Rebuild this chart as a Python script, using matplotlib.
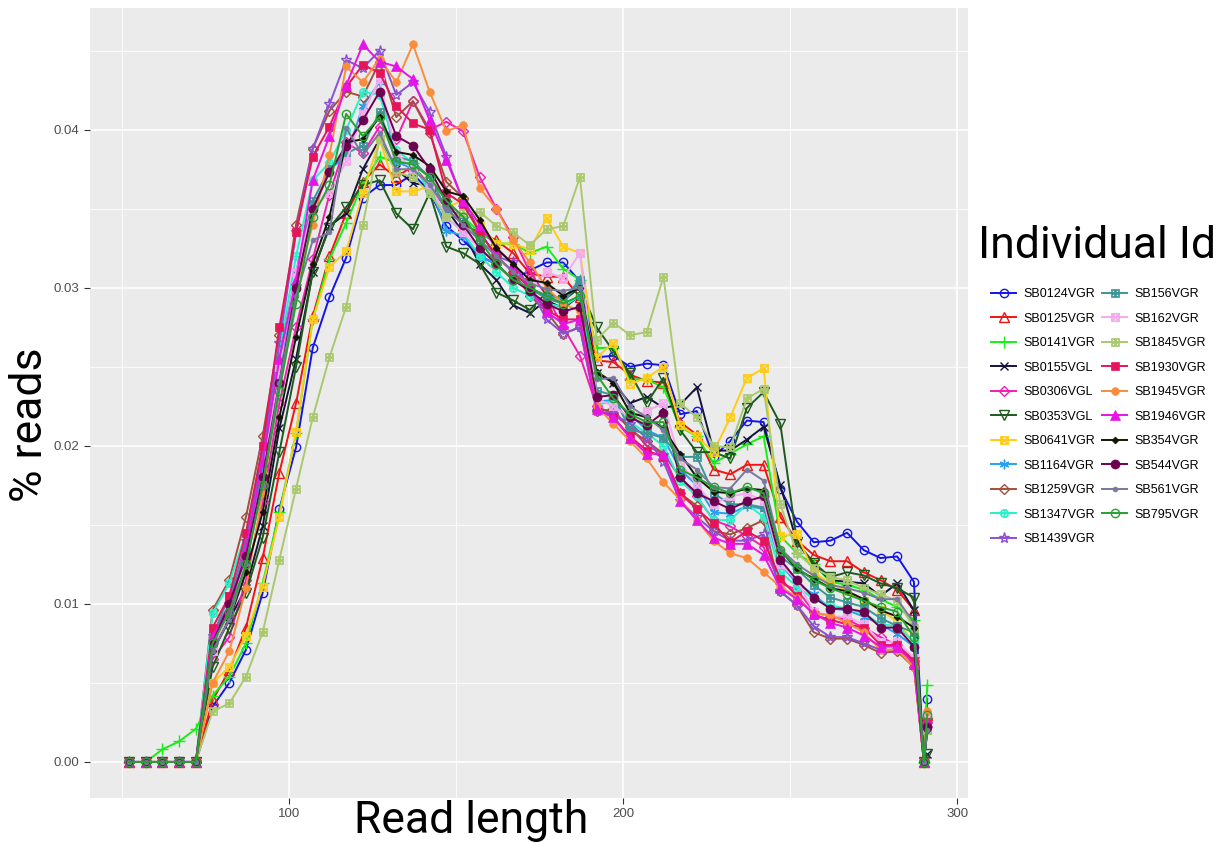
# Read length distribution per individual (ggplot-like look)

import matplotlib
matplotlib.use("Agg")
import matplotlib.pyplot as plt
from matplotlib.ticker import MultipleLocator, FormatStrFormatter

# read length (bp)
read_length = [52, 57, 62, 67, 72, 77, 82, 87, 92, 97,
               102, 107, 112, 117, 122, 127, 132, 137, 142, 147,
               152, 157, 162, 167, 172, 177, 182, 187, 192, 197,
               202, 207, 212, 217, 222, 227, 232, 237, 242, 247,
               252, 257, 262, 267, 272, 277, 282, 287, 290, 291]

# % reads, values in units of 1e-3
sb0124vgr = [0,0,0,0,0, 3.5,5.0,7.1,10.7,16.0, 19.9,26.2,29.4,31.9,35.7, 36.5,36.5,37.2,36.1,33.9,
             33.0,32.0,31.5,30.5,31.1, 31.6,31.6,30.4,25.6,25.7, 25.0,25.2,25.1,22.0,22.2, 19.3,20.3,21.6,21.5,17.3,
             15.2,13.9,14.0,14.5,13.4, 12.9,13.0,11.4,0,4.0]
sb0125vgr = [0,0,0,0,0, 3.9,5.8,8.5,12.9,18.3, 22.7,28.2,32.0,34.7,36.7, 37.8,37.0,37.7,36.5,35.0,
             34.0,33.5,33.0,32.2,30.9, 30.7,30.7,29.4,25.4,25.3, 24.5,24.1,24.0,21.5,20.7, 18.5,18.2,18.8,18.8,15.5,
             14.0,13.1,12.7,12.7,12.0, 11.5,10.9,9.6,0,3.0]
sb0141vgr = [0,0,0.8,1.3,2.1, 4.2,5.4,7.5,11.3,15.8, 20.8,28.0,31.8,34.1,36.6, 38.3,37.9,37.9,37.0,35.5,
             34.5,33.5,32.8,32.8,32.2, 32.6,31.2,30.5,26.2,26.2, 24.2,24.2,23.7,21.2,20.6, 18.9,19.5,20.1,20.6,14.3,
             13.2,12.5,11.4,11.2,10.9, 10.3,9.8,9.0,0,4.9]
sb0155vgl = [0,0,0,0,0, 7.0,9.0,11.0,14.9,21.1, 25.5,31.0,33.9,34.7,37.5, 39.4,37.5,36.6,36.5,35.0,
             33.5,31.5,30.5,28.9,28.4, 29.2,28.7,29.5,24.6,24.0, 22.7,23.1,22.4,22.6,23.7, 19.7,19.7,20.4,21.2,17.5,
             13.9,12.5,11.5,11.4,11.3, 10.5,11.3,9.6,0,0.5]
sb0306vgl = [0,0,0,0,0, 6.5,7.9,11.5,16.5,22.7, 27.5,31.8,35.9,39.2,38.5, 40.2,39.4,41.8,40.0,40.5,
             39.9,37.0,35.0,33.2,31.0, 29.5,27.5,25.7,22.5,22.0, 21.2,20.0,19.5,18.0,16.8, 15.3,14.9,14.3,13.6,11.3,
             10.9,9.5,9.2,9.0,8.5, 7.9,7.4,6.4,0,2.5]
sb0353vgl = [0,0,0,0,0, 6.0,8.5,10.7,14.2,19.6, 25.0,31.0,33.8,35.1,36.5, 36.8,34.7,33.7,36.0,32.6,
             32.2,31.5,29.7,29.2,28.6, 29.7,29.2,30.0,27.5,26.0, 24.6,22.7,24.3,21.0,19.6, 19.6,19.2,22.4,23.4,21.4,
             13.9,12.6,11.7,12.0,11.8, 11.3,11.0,10.4,0,0.5]
sb0641vgr = [0,0,0,0,0, 5.0,6.0,8.0,11.1,15.5, 20.9,28.0,31.3,32.3,36.0, 39.4,36.1,36.1,36.4,35.1,
             35.5,34.0,32.8,32.8,32.4, 34.4,32.6,32.2,25.6,26.5, 23.9,24.3,25.0,21.3,20.6, 19.6,21.8,24.3,24.9,14.3,
             14.4,12.0,11.3,10.8,10.2, 9.6,8.9,7.5,0,3.0]
sb1164vgr = [0,0,0,0,0, 7.5,10.0,13.0,18.5,25.0, 30.0,35.0,37.5,38.3,41.5, 43.0,38.0,37.5,36.5,33.6,
             33.3,32.0,31.5,30.5,29.8, 29.5,29.3,30.5,22.8,22.9, 22.0,21.0,20.5,18.5,17.5, 15.8,15.7,16.2,16.0,12.5,
             11.3,10.6,9.7,9.6,9.2, 8.7,8.1,7.3,0,2.0]
sb1259vgr = [0,0,0,0,0, 9.6,11.5,15.5,20.6,27.0, 34.0,38.8,41.2,42.4,42.1, 44.3,40.8,41.8,39.8,36.7,
             35.7,33.5,32.0,31.0,29.5, 28.5,27.1,27.5,22.2,22.3, 21.0,20.3,19.5,17.0,16.2, 14.6,14.4,14.8,15.3,10.8,
             9.9,8.2,7.8,7.8,7.4, 6.9,7.0,6.0,0,2.8]
sb1347vgr = [0,0,0,0,0, 9.4,11.3,14.5,20.0,26.0, 32.0,36.8,37.9,40.0,42.4, 42.2,38.7,37.9,36.0,34.5,
             33.5,32.0,31.0,30.0,29.5, 29.0,28.8,29.5,22.6,22.8, 21.5,20.8,20.0,17.8,16.8, 15.3,15.3,16.3,15.5,12.0,
             11.1,10.3,9.9,9.7,9.4, 8.7,8.6,7.6,0,2.5]
sb1439vgr = [0,0,0,0,0, 8.0,10.0,14.0,19.5,26.5, 33.5,38.8,41.6,44.4,43.9, 45.0,42.2,43.0,41.1,38.3,
             35.5,33.5,32.0,31.6,30.0, 28.0,27.1,27.5,22.2,22.0, 21.4,20.5,19.0,16.5,15.5, 14.6,14.0,14.0,14.4,10.8,
             9.9,8.6,7.9,7.9,7.5, 7.1,7.1,6.5,0,2.4]
sb156vgr = [0,0,0,0,0, 8.0,10.5,13.5,19.0,25.5, 31.0,35.5,37.5,38.5,39.0, 41.1,38.3,38.0,37.0,35.0,
            34.5,33.0,32.0,31.0,30.0, 29.3,29.0,30.5,23.5,23.2, 21.0,20.8,20.5,19.3,19.3, 17.0,16.3,16.3,16.1,13.0,
            12.2,11.2,10.4,10.1,9.8, 9.1,8.6,8.2,0,2.0]
sb162vgr = [0,0,0,0,0, 7.0,9.5,13.0,18.0,25.0, 31.0,35.0,36.0,38.0,41.0, 43.2,38.5,37.5,36.5,34.5,
            33.5,32.5,31.5,30.5,30.0, 31.0,30.6,32.2,23.0,22.5, 21.8,22.2,22.7,19.0,17.5, 16.3,16.8,17.0,16.5,12.5,
            11.5,9.5,9.2,9.2,8.7, 7.6,7.6,6.6,0,2.8]
sb1845vgr = [0,0,0,0,0, 3.2,3.7,5.4,8.2,12.8, 17.3,21.8,25.6,28.8,34.0, 39.4,37.3,37.0,36.0,34.5,
             34.7,34.8,33.9,33.5,32.7, 33.7,33.9,37.0,26.7,27.8, 27.0,27.2,30.7,22.7,21.8, 20.0,19.9,23.0,23.6,16.3,
             13.2,12.3,11.7,11.5,11.0, 10.6,10.2,8.5,0,2.0]
sb1930vgr = [0,0,0,0,0, 8.5,10.5,14.5,20.0,27.5, 33.5,38.3,40.2,42.7,44.1, 43.6,41.5,40.4,40.0,36.0,
             35.3,33.5,32.0,31.0,30.0, 28.6,28.0,28.0,22.3,21.8, 20.6,19.7,19.3,17.0,16.0, 15.1,13.9,14.6,14.0,11.6,
             10.5,9.3,9.0,8.7,8.5, 7.4,7.4,6.4,0,2.5]
sb1945vgr = [0,0,0,0,0, 5.0,7.0,11.0,17.0,24.0, 30.0,34.0,38.4,44.0,43.0, 44.5,43.0,45.4,42.4,39.9,
             40.3,36.3,35.0,33.0,31.6, 30.0,29.0,28.5,22.5,21.4, 20.3,19.2,17.7,16.6,15.3, 14.0,13.2,12.9,12.0,11.1,
             10.4,9.4,9.3,8.8,8.2, 7.1,7.1,6.0,0,3.2]
sb1946vgr = [0,0,0,0,0, 8.0,9.5,13.5,19.0,25.5, 30.5,36.8,39.6,42.8,45.4, 44.3,44.0,43.2,40.6,38.1,
             35.5,34.0,32.5,31.5,30.0, 28.5,27.7,28.0,22.3,21.8, 20.5,19.5,19.5,16.5,15.3, 14.2,13.8,13.8,13.1,11.0,
             10.3,9.4,8.8,8.5,8.0, 7.3,7.3,6.2,0,2.5]
sb354vgr = [0,0,0,0,0, 7.0,9.0,12.0,15.8,21.8, 26.9,31.5,34.5,39.2,39.4, 40.8,38.6,38.4,37.7,36.1,
            35.8,34.3,32.5,31.5,30.5, 30.3,29.5,30.0,24.7,24.0, 22.1,21.8,21.1,19.5,18.0, 17.1,17.0,17.3,17.2,13.4,
            12.2,11.6,11.0,10.8,10.3, 9.6,9.2,8.5,0,2.0]
sb544vgr = [0,0,0,0,0, 7.5,10.0,13.0,18.0,24.0, 30.0,35.0,37.3,39.0,40.6, 42.4,39.6,39.0,37.5,35.5,
            34.0,32.5,31.5,30.5,29.8, 29.0,28.5,28.8,23.1,23.2, 21.8,21.3,22.1,18.0,17.0, 16.5,16.0,16.5,16.8,12.8,
            11.5,10.4,9.7,9.7,9.5, 8.5,8.5,7.3,0,2.2]
sb561vgr = [0,0,0,0,0, 7.0,9.0,12.5,17.5,24.0, 29.5,33.0,33.5,40.1,38.4, 39.8,37.5,37.5,36.5,35.0,
            34.0,33.0,32.0,31.0,30.3, 29.9,29.8,30.0,24.2,24.3, 22.5,21.8,21.0,19.2,18.5, 17.4,17.3,18.5,17.8,13.5,
            12.5,11.8,11.2,11.0,10.7, 10.3,10.3,8.8,0,2.0]
sb795vgr = [0,0,0,0,0, 7.5,9.5,12.5,17.5,23.5, 29.0,34.5,36.5,41.0,39.6, 40.8,38.0,37.8,37.0,35.5,
            34.5,33.0,31.5,30.5,30.0, 29.5,29.0,29.5,24.5,23.0, 22.0,21.5,21.5,18.5,18.0, 17.4,17.0,17.4,17.0,13.4,
            12.3,11.5,11.0,10.6,10.2, 9.8,9.5,7.9,0,3.0]

individuals = ["SB0124VGR", "SB0125VGR", "SB0141VGR", "SB0155VGL", "SB0306VGL",
               "SB0353VGL", "SB0641VGR", "SB1164VGR", "SB1259VGR", "SB1347VGR",
               "SB1439VGR", "SB156VGR", "SB162VGR", "SB1845VGR", "SB1930VGR",
               "SB1945VGR", "SB1946VGR", "SB354VGR", "SB544VGR", "SB561VGR", "SB795VGR"]

series = [sb0124vgr, sb0125vgr, sb0141vgr, sb0155vgl, sb0306vgl,
          sb0353vgl, sb0641vgr, sb1164vgr, sb1259vgr, sb1347vgr,
          sb1439vgr, sb156vgr, sb162vgr, sb1845vgr, sb1930vgr,
          sb1945vgr, sb1946vgr, sb354vgr, sb544vgr, sb561vgr, sb795vgr]

colors = ["#1414E6", "#F01414", "#14F014", "#14143C", "#F01EB4",
          "#1E5A1E", "#FFCC14", "#28A0F0", "#A0503C", "#28F0C8",
          "#8C50D2", "#3C9696", "#F5AAF0", "#AAC86E", "#E6145A",
          "#FA8C3C", "#E614E6", "#141405", "#6E0050", "#7878A0", "#28A032"]

# (marker, filled, size)
markers = [("o", False, 6), ("^", False, 7), ("+", False, 8), ("x", False, 6), ("D", False, 5.5),
           ("v", False, 7), (r"$\boxtimes$", True, 6), ((6, 2, 0), False, 7), ("D", False, 5.5), (r"$\oplus$", True, 6),
           ("*", False, 8), (r"$\boxplus$", True, 6), (r"$\boxtimes$", True, 6), (r"$\boxplus$", True, 6), ("s", True, 5.5),
           ("o", True, 5.5), ("^", True, 6.5), ("D", True, 3.5), ("o", True, 6.5), ("o", True, 3.5), ("o", False, 6)]

fig = plt.figure(figsize=(12.23, 8.43), dpi=100)
ax = fig.add_axes([90 / 1223, 1 - 798 / 843, 878 / 1223, 790 / 843])
ax.set_facecolor("#EBEBEB")
for s in ax.spines.values():
    s.set_visible(False)

handles = []
for name, vals, col, (mk, filled, ms) in zip(individuals, series, colors, markers):
    y = [v / 1000 for v in vals]
    kw = dict(color=col, lw=1.4, marker=mk, markersize=ms, markeredgewidth=1.0)
    if not filled:
        kw["markerfacecolor"] = "none"
    else:
        kw["markeredgewidth"] = 0.5
    h, = ax.plot(read_length, y, label=name, **kw)
    handles.append(h)

ax.set_xlim(40.3, 303.2)
ax.set_ylim(-0.00228, 0.0477)
ax.xaxis.set_major_locator(MultipleLocator(100))
ax.xaxis.set_minor_locator(MultipleLocator(50))
ax.yaxis.set_major_locator(MultipleLocator(0.01))
ax.yaxis.set_minor_locator(MultipleLocator(0.005))
ax.yaxis.set_major_formatter(FormatStrFormatter("%.2f"))
ax.grid(which="major", color="white", lw=1.2)
ax.grid(which="minor", color="white", lw=0.6)
ax.set_axisbelow(True)
ax.tick_params(which="major", length=4, color="#333333", labelcolor="#4D4D4D", labelsize=9.5)
ax.tick_params(which="minor", length=0)
for lab in ax.get_xticklabels() + ax.get_yticklabels():
    lab.set_family("Liberation Sans")

ax.set_xlabel("Read length", fontsize=32, family="Roboto")
ax.set_ylabel("% reads", fontsize=32, family="Roboto")
ax.xaxis.set_label_coords((471 - 90) / 878, -0.001)
ax.yaxis.set_label_coords(-0.044, 0.472)

# legend title drawn on its own, entries below it
fig.text(978 / 1223, 1 - 258 / 843, "Individual Id", fontsize=32, family="Roboto",
         ha="left", va="baseline")
leg = fig.legend(handles=handles, ncol=2, loc="upper left",
                 bbox_to_anchor=(980 / 1223, 1 - 277 / 843),
                 frameon=False, prop={"family": "Liberation Sans", "size": 9},
                 handlelength=2.0, labelspacing=1.0,
                 columnspacing=0.55, handletextpad=0.6)

fig.savefig("out.png", dpi=100)
